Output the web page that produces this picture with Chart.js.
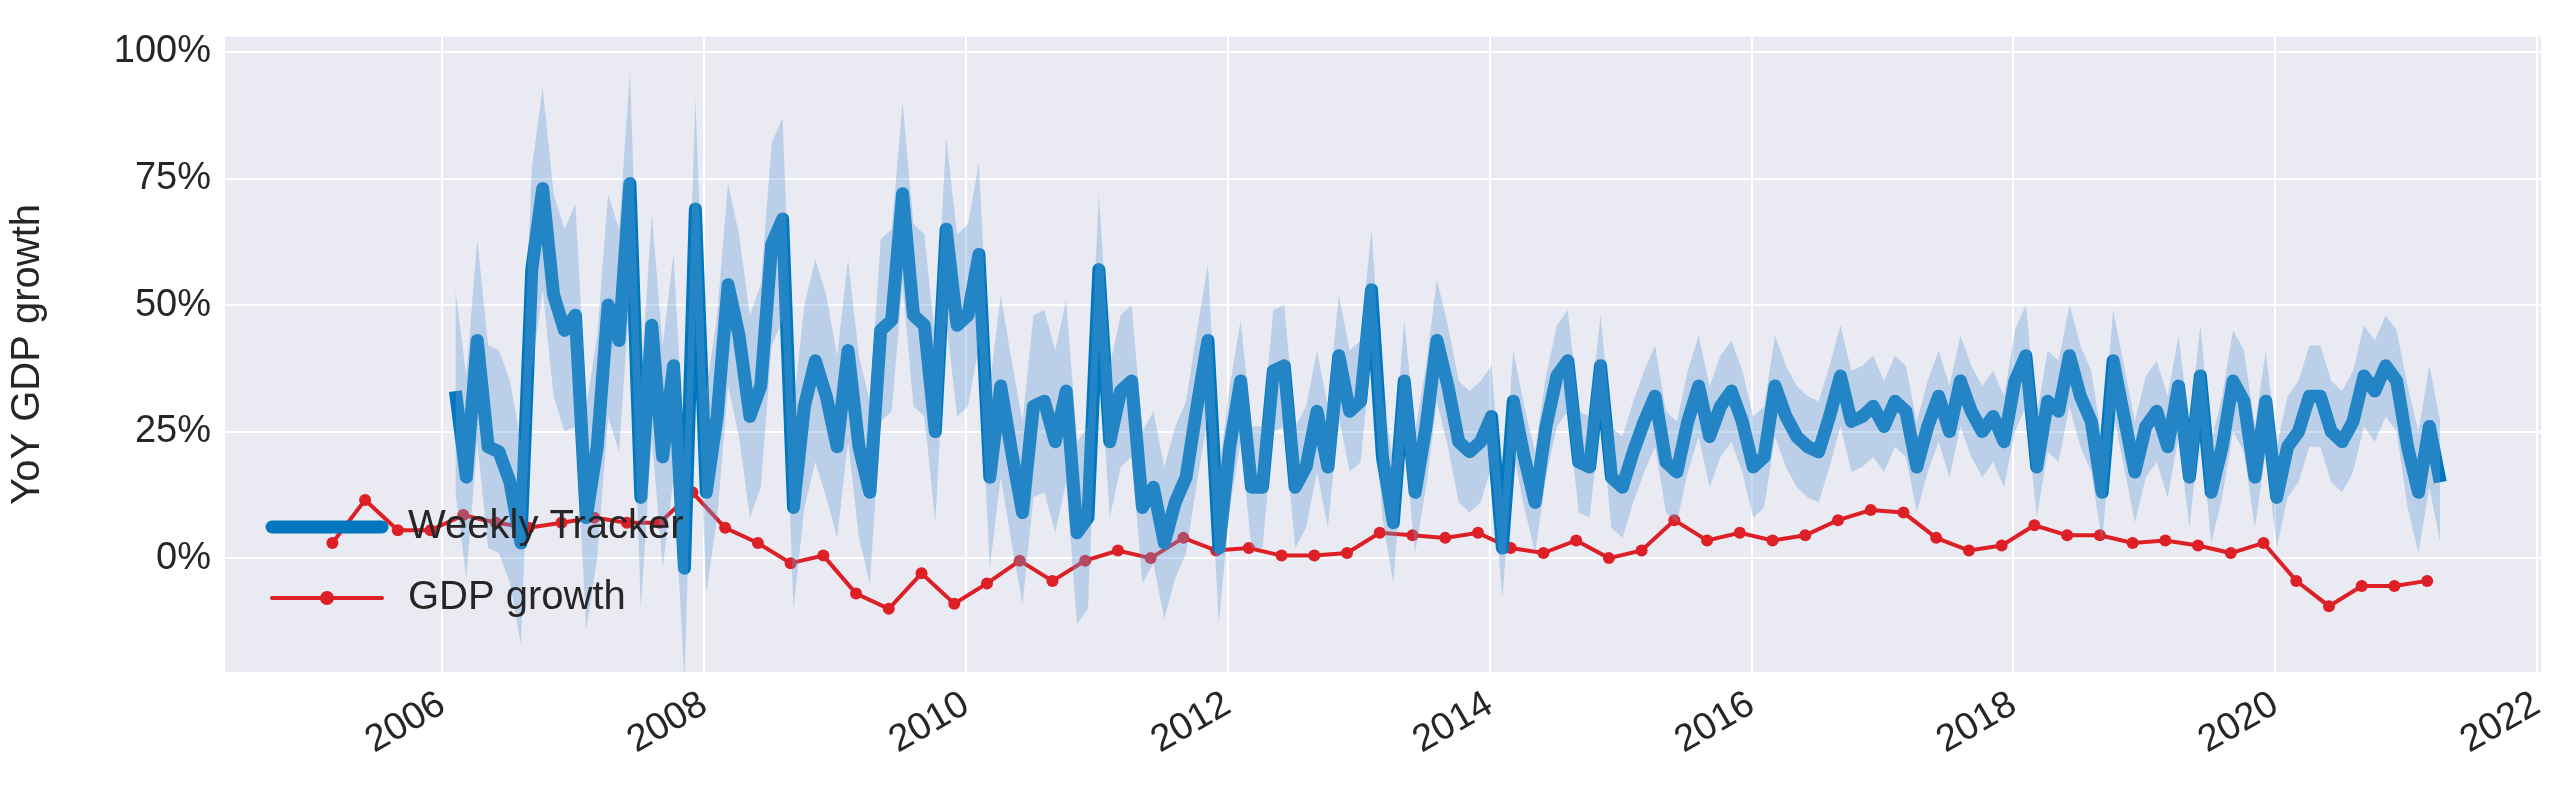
<!DOCTYPE html>
<html>
<head>
<meta charset="utf-8">
<script src="https://cdn.jsdelivr.net/npm/chart.js@4"></script>
<style>
  body { margin: 0; background: #fff; }
  #wrap { width: 2570px; height: 807px; }
</style>
</head>
<body>
<div id="wrap"><canvas id="myChart" width="2570" height="807"></canvas></div>
<script>
// monthly weekly-tracker estimate (%), first month 2006.1, last 2021.26
var trackerStart = 2006.1;
var trackerEnd = 2021.26;
var tracker = [33, 16, 43, 22, 21, 15, 3, 57, 73, 52, 45, 48, 8, 22, 50, 43, 74, 12, 46, 20, 38, -2, 69, 13, 28, 54, 44, 28, 34, 62, 67, 10, 30, 39, 32, 22, 41, 22, 13, 45, 47, 72, 48, 46, 25, 65, 46, 48, 60, 16, 34, 21, 9, 30, 31, 23, 33, 5, 8, 57, 23, 33, 35, 10, 14, 3, 11, 16, 30, 43, 2, 22, 35, 14, 14, 37, 38, 14, 18, 29, 18, 40, 29, 31, 53, 20, 7, 35, 13, 26, 43, 34, 23, 21, 23, 28, 2, 31, 20, 11, 26, 36, 39, 19, 18, 38, 16, 14, 21, 27, 32, 19, 17, 27, 34, 24, 30, 33, 27, 18, 20, 34, 28, 24, 22, 21, 28, 36, 27, 28, 30, 26, 31, 29, 18, 26, 32, 25, 35, 29, 25, 28, 23, 35, 40, 18, 31, 29, 40, 32, 27, 13, 39, 28, 17, 26, 29, 22, 34, 16, 36, 13, 22, 35, 31, 16, 31, 12, 22, 25, 32, 32, 25, 23, 27, 36, 33, 38, 35, 22, 13, 26, 15];
// half-width of the uncertainty band by calendar year (pct points)
var bandYears = [2006, 2007, 2008, 2009, 2010, 2011, 2012, 2013, 2014, 2015, 2016, 2017, 2018, 2019, 2020, 2021];
var bandHalf = [20, 22, 20, 18, 18, 15, 12, 12, 10, 10, 10, 9, 10, 10, 10, 12];

// quarterly GDP growth (%), first quarter 2005.16
var gdpStart = 2005.16;
var gdp = [3, 11.5, 5.5, 5.5, 8.5, 7, 6, 7, 8, 7, 7, 13, 6, 3, -1, 0.5, -7, -10, -3, -9, -5, -0.5, -4.5, -0.5, 1.5, 0, 4, 1.5, 2, 0.5, 0.5, 1, 5, 4.5, 4, 5, 2, 1, 3.5, 0, 1.5, 7.5, 3.5, 5, 3.5, 4.5, 7.5, 9.5, 9, 4, 1.5, 2.5, 6.5, 4.5, 4.5, 3, 3.5, 2.5, 1, 3, -4.5, -9.5, -5.5, -5.5, -4.5];

var yTicks = [0, 25, 50, 75, 100];
var xTicks = [2006, 2008, 2010, 2012, 2014, 2016, 2018, 2020, 2022];

var step = (trackerEnd - trackerStart) / (tracker.length - 1);
var trackerPts = [], upperPts = [], lowerPts = [];
tracker.forEach(function(v, i) {
  var x = trackerStart + i * step;
  var w = bandHalf[Math.max(0, Math.min(bandHalf.length - 1, Math.floor(x) - bandYears[0]))];
  trackerPts.push({x: x, y: v});
  upperPts.push({x: x, y: v + w});
  lowerPts.push({x: x, y: v - w});
});
var gdpPts = gdp.map(function(v, i) { return {x: gdpStart + i * 0.25, y: v}; });

var blue = '#0077be';
var red = '#dd1f26';
var font = 'Arial, "Liberation Sans", sans-serif';

// plot background + legend inside the plot area
var plotBg = {
  id: 'plotBg',
  beforeDraw: function(chart) {
    var a = chart.chartArea, c = chart.ctx;
    c.save();
    c.fillStyle = '#eaeaf2';
    c.fillRect(a.left, a.top, a.right - a.left, a.bottom - a.top);
    c.restore();
  },
  afterDatasetsDraw: function(chart) {
    var c = chart.ctx;
    c.save();
    c.font = '40px ' + font;
    c.textBaseline = 'middle';
    c.fillStyle = '#262626';
    c.lineCap = 'round';
    c.strokeStyle = blue; c.lineWidth = 13;
    c.beginPath(); c.moveTo(272, 527); c.lineTo(382, 527); c.stroke();
    c.fillText('Weekly Tracker', 408, 527);
    c.strokeStyle = red; c.lineWidth = 4;
    c.beginPath(); c.moveTo(272, 598); c.lineTo(382, 598); c.stroke();
    c.fillStyle = red;
    c.beginPath(); c.arc(327, 598, 7, 0, Math.PI * 2); c.fill();
    c.fillStyle = '#262626';
    c.fillText('GDP growth', 408, 598);
    c.restore();
  }
};

var ctx = document.getElementById('myChart').getContext('2d');
var chart = new Chart(ctx, {
  type: 'line',
  data: {
    datasets: [{
      label: 'lower',
      data: lowerPts,
      borderWidth: 0,
      pointRadius: 0,
      fill: false
    }, {
      label: 'upper',
      data: upperPts,
      borderWidth: 0,
      pointRadius: 0,
      backgroundColor: 'rgba(100,160,215,0.35)',
      fill: '-1'
    }, {
      label: 'Weekly Tracker',
      data: trackerPts,
      borderColor: blue,
      borderWidth: 13,
      pointRadius: 0,
      borderJoinStyle: 'round',
      fill: false
    }, {
      label: 'GDP growth',
      data: gdpPts,
      borderColor: red,
      backgroundColor: red,
      borderWidth: 4,
      pointRadius: 6,
      pointBorderWidth: 0,
      fill: false
    }]
  },
  options: {
    responsive: false,
    animation: false,
    devicePixelRatio: 1,
    layout: { padding: { top: 20, right: 26 } },
    plugins: { legend: { display: false }, tooltip: { enabled: false } },
    scales: {
      x: {
        type: 'linear',
        min: 2004.34,
        max: 2022.03,
        afterBuildTicks: function(s) { s.ticks = xTicks.map(function(v) { return {value: v}; }); },
        afterFit: function(s) { s.height = 135; },
        grid: { color: '#ffffff', lineWidth: 2, drawTicks: false },
        border: { display: false },
        ticks: {
          color: '#262626', font: { size: 38, family: font },
          maxRotation: 30, minRotation: 30, padding: 10,
          callback: function(v) { return String(v); }
        }
      },
      y: {
        min: -22.5,
        max: 103,
        afterBuildTicks: function(s) { s.ticks = yTicks.map(function(v) { return {value: v}; }); },
        afterFit: function(s) { s.width = 225; },
        grid: { color: '#ffffff', lineWidth: 2, drawTicks: false },
        border: { display: false },
        title: { display: true, text: 'YoY GDP growth', color: '#262626', font: { size: 40, family: font } },
        ticks: {
          color: '#262626', font: { size: 38, family: font }, padding: 14,
          callback: function(v) { return v + '%'; }
        }
      }
    }
  },
  plugins: [plotBg]
});
</script>
</body>
</html>
